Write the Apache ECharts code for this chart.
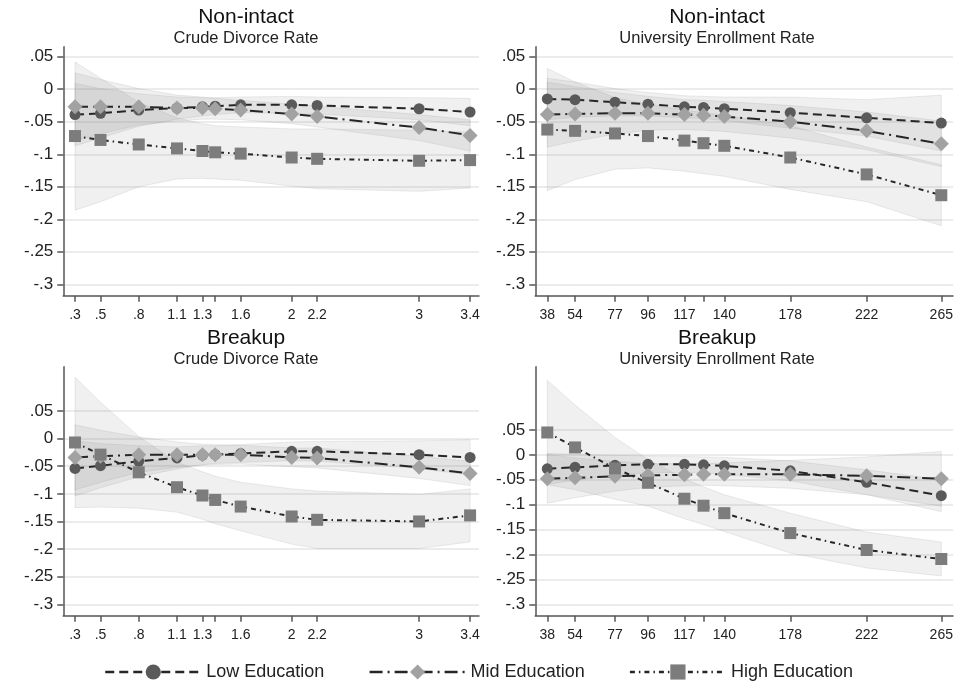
<!DOCTYPE html>
<html><head><meta charset="utf-8">
<script src="https://cdn.jsdelivr.net/npm/echarts@6/dist/echarts.min.js"></script>
<style>html,body{margin:0;padding:0;background:#fff}#c{width:957px;height:688px}</style>
</head><body><div id="c"></div>
<script>
// ---------- DATA ----------
const divX = [0.3, 0.5, 0.8, 1.1, 1.3, 1.4, 1.6, 2, 2.2, 3, 3.4];
const divXLabels = [0.3, 0.5, 0.8, 1.1, 1.3, 1.6, 2, 2.2, 3, 3.4];
const uniX = [38, 54, 77, 96, 117, 128, 140, 178, 222, 265];
const uniXLabels = [38, 54, 77, 96, 117, 140, 178, 222, 265];
const yTicks = [-0.3, -0.25, -0.2, -0.15, -0.1, -0.05, 0, 0.05];
const seriesNames = ['Low Education', 'Mid Education', 'High Education'];
const panelTitles = ['Non-intact', 'Non-intact', 'Breakup', 'Breakup'];
const panelSubtitles = ['Crude Divorce Rate', 'University Enrollment Rate', 'Crude Divorce Rate', 'University Enrollment Rate'];

// Non-intact / Crude Divorce Rate (estimate and CI half-width)
const niDivLow    = [-0.039, -0.037, -0.032, -0.029, -0.027, -0.026, -0.024, -0.024, -0.025, -0.030, -0.035];
const niDivLowCI  = [0.048, 0.038, 0.025, 0.017, 0.014, 0.013, 0.012, 0.013, 0.013, 0.017, 0.021];
const niDivMid    = [-0.027, -0.027, -0.027, -0.029, -0.029, -0.030, -0.032, -0.038, -0.042, -0.059, -0.071];
const niDivMidCI  = [0.052, 0.042, 0.028, 0.020, 0.017, 0.016, 0.015, 0.015, 0.016, 0.020, 0.024];
const niDivHigh   = [-0.072, -0.078, -0.085, -0.091, -0.095, -0.097, -0.099, -0.105, -0.107, -0.110, -0.109];
const niDivHighCI = [0.114, 0.095, 0.065, 0.047, 0.042, 0.041, 0.041, 0.044, 0.046, 0.047, 0.043];

// Non-intact / University Enrollment Rate
const niUniLow    = [-0.015, -0.016, -0.020, -0.023, -0.027, -0.028, -0.030, -0.036, -0.044, -0.052];
const niUniLowCI  = [0.032, 0.027, 0.021, 0.018, 0.017, 0.017, 0.018, 0.024, 0.028, 0.043];
const niUniMid    = [-0.039, -0.038, -0.037, -0.037, -0.039, -0.040, -0.042, -0.050, -0.064, -0.084];
const niUniMidCI  = [0.050, 0.042, 0.032, 0.026, 0.023, 0.023, 0.023, 0.025, 0.029, 0.035];
const niUniHigh   = [-0.062, -0.064, -0.068, -0.072, -0.079, -0.083, -0.087, -0.105, -0.131, -0.163];
const niUniHighCI = [0.094, 0.075, 0.055, 0.049, 0.047, 0.047, 0.047, 0.049, 0.042, 0.047];

// Breakup / Crude Divorce Rate
const brDivLow    = [-0.054, -0.049, -0.041, -0.035, -0.030, -0.029, -0.027, -0.023, -0.023, -0.029, -0.034];
const brDivLowCI  = [0.050, 0.040, 0.028, 0.020, 0.017, 0.016, 0.016, 0.017, 0.018, 0.025, 0.032];
const brDivMid    = [-0.034, -0.032, -0.029, -0.029, -0.029, -0.029, -0.029, -0.034, -0.035, -0.052, -0.063];
const brDivMidCI  = [0.059, 0.047, 0.032, 0.023, 0.019, 0.018, 0.017, 0.017, 0.018, 0.020, 0.022];
const brDivHigh   = [-0.007, -0.029, -0.061, -0.088, -0.103, -0.111, -0.123, -0.141, -0.147, -0.150, -0.139];
const brDivHighCI = [0.118, 0.095, 0.065, 0.045, 0.043, 0.043, 0.044, 0.050, 0.052, 0.049, 0.048];

// Breakup / University Enrollment Rate
const brUniLow    = [-0.028, -0.025, -0.021, -0.019, -0.019, -0.020, -0.022, -0.032, -0.055, -0.082];
const brUniLowCI  = [0.031, 0.026, 0.020, 0.017, 0.016, 0.016, 0.017, 0.020, 0.025, 0.032];
const brUniMid    = [-0.048, -0.046, -0.043, -0.041, -0.040, -0.039, -0.039, -0.039, -0.042, -0.048];
const brUniMidCI  = [0.049, 0.040, 0.030, 0.024, 0.022, 0.022, 0.023, 0.028, 0.038, 0.055];
const brUniHigh   = [0.045, 0.015, -0.027, -0.056, -0.088, -0.102, -0.117, -0.157, -0.191, -0.209];
const brUniHighCI = [0.105, 0.085, 0.062, 0.047, 0.040, 0.038, 0.037, 0.040, 0.036, 0.034];

// ---------- LAYOUT / STYLE ----------
const FONT = '"Liberation Sans", Arial, sans-serif';
const panels = [
  {xs: divX, xl: divXLabels, xMin: 0.208, xMax: 3.47, yMin: -0.3175, yMax: 0.0654,
   grid: {left: 63.3, top: 46.7, width: 415.7, height: 249}, cx: 246, ty: 7,
   est: [niDivLow, niDivMid, niDivHigh], ci: [niDivLowCI, niDivMidCI, niDivHighCI]},
  {xs: uniX, xl: uniXLabels, xMin: 31.09, xMax: 271.74, yMin: -0.3175, yMax: 0.0654,
   grid: {left: 535.3, top: 46.7, width: 417.7, height: 249}, cx: 717, ty: 7,
   est: [niUniLow, niUniMid, niUniHigh], ci: [niUniLowCI, niUniMidCI, niUniHighCI]},
  {xs: divX, xl: divXLabels, xMin: 0.208, xMax: 3.47, yMin: -0.3206, yMax: 0.1302,
   grid: {left: 63.3, top: 366.7, width: 415.7, height: 249}, cx: 246, ty: 328,
   est: [brDivLow, brDivMid, brDivHigh], ci: [brDivLowCI, brDivMidCI, brDivHighCI]},
  {xs: uniX, xl: uniXLabels, xMin: 31.09, xMax: 271.74, yMin: -0.3229, yMax: 0.1771,
   grid: {left: 535.3, top: 366.7, width: 417.7, height: 249}, cx: 717, ty: 328,
   est: [brUniLow, brUniMid, brUniHigh], ci: [brUniLowCI, brUniMidCI, brUniHighCI]}
];
const styles = [
  {symbol: 'circle', size: 11, color: '#5a5a5a', dash: [9, 5]},
  {symbol: 'diamond', size: 15, color: '#a2a2a2', dash: [13, 5, 2, 5]},
  {symbol: 'rect', size: 12, color: '#7c7c7c', dash: [5, 4, 1.5, 4]}
];
const LINE_COLOR = '#262626';
const AXIS_COLOR = '#555';

function fmt(v) {
  const s = String(+(+v).toFixed(3));
  return s.replace(/^(-?)0\./, '$1.');
}

const grids = [], xAxes = [], yAxes = [], series = [], titles = [];
panels.forEach((p, gi) => {
  grids.push(Object.assign({containLabel: false}, p.grid));
  xAxes.push({
    type: 'value', gridIndex: gi, min: p.xMin, max: p.xMax,
    axisLine: {onZero: false, lineStyle: {color: AXIS_COLOR, width: 1.5}},
    axisTick: {show: true, length: 6, customValues: p.xs, lineStyle: {color: AXIS_COLOR, width: 1.5}},
    axisLabel: {customValues: p.xl, formatter: fmt, fontSize: 14, color: '#222', fontFamily: FONT, margin: 12},
    splitLine: {show: false}
  });
  yAxes.push({
    type: 'value', gridIndex: gi, min: p.yMin, max: p.yMax,
    axisLine: {show: true, onZero: false, lineStyle: {color: AXIS_COLOR, width: 1.5}},
    axisTick: {show: true, length: 6, customValues: yTicks, lineStyle: {color: AXIS_COLOR, width: 1.5}},
    axisLabel: {customValues: yTicks, formatter: fmt, fontSize: 17, color: '#222', fontFamily: FONT, margin: 10},
    splitLine: {show: true, lineStyle: {color: '#e6e6e6', width: 1.5}}
  });
  titles.push({
    text: panelTitles[gi], subtext: panelSubtitles[gi], left: p.cx, top: p.ty,
    textAlign: 'center', padding: 0, itemGap: 2,
    textStyle: {fontSize: 21, fontWeight: 'normal', color: '#111', fontFamily: FONT},
    subtextStyle: {fontSize: 16.5, color: '#222', fontFamily: FONT}
  });
  // confidence bands
  p.est.forEach((est, si) => {
    const hw = p.ci[si];
    const data = p.xs.map((x, i) => [x, est[i] - hw[i], est[i] + hw[i]]);
    series.push({
      type: 'custom', xAxisIndex: gi, yAxisIndex: gi, z: 1, silent: true,
      data: data, encode: {x: 0, y: [1, 2]},
      renderItem: function (params, api) {
        if (params.dataIndex !== 0) return null;
        const up = data.map(d => api.coord([d[0], d[2]]));
        const lo = data.map(d => api.coord([d[0], d[1]])).reverse();
        return {type: 'polygon', shape: {points: up.concat(lo)},
          style: {fill: 'rgba(135,135,135,0.12)', stroke: 'rgba(135,135,135,0.16)', lineWidth: 1}};
      }
    });
  });
  // estimate lines
  p.est.forEach((est, si) => {
    const st = styles[si];
    series.push({
      type: 'line', name: seriesNames[si], xAxisIndex: gi, yAxisIndex: gi, z: 3 + si,
      data: p.xs.map((x, i) => [x, est[i]]),
      symbol: st.symbol, symbolSize: st.size, showSymbol: true,
      itemStyle: {color: st.color, opacity: 1},
      lineStyle: {color: LINE_COLOR, width: 2, type: st.dash},
      emphasis: {disabled: true}
    });
  });
});

const chart = echarts.init(document.getElementById('c'), null, {renderer: 'canvas'});
chart.setOption({
  animation: false,
  backgroundColor: '#fff',
  title: titles,
  grid: grids,
  xAxis: xAxes,
  yAxis: yAxes,
  legend: {
    data: seriesNames, top: 658, left: 'center', itemWidth: 96, itemHeight: 19, itemGap: 44,
    textStyle: {fontSize: 18, color: '#222', fontFamily: FONT},
    lineStyle: {width: 2.5}
  },
  series: series
});
</script></body></html>
